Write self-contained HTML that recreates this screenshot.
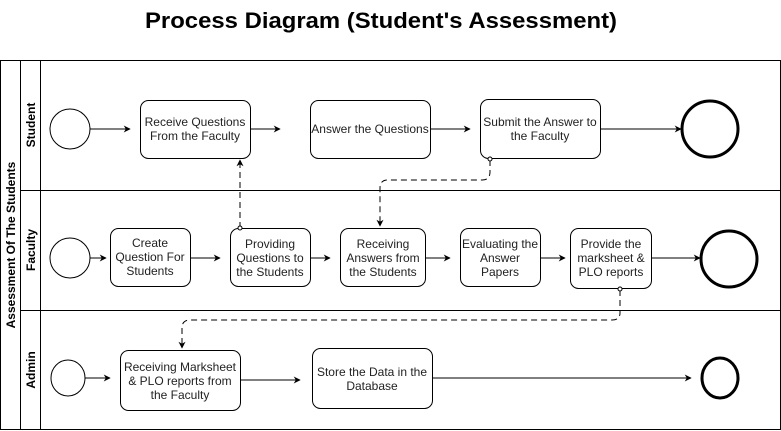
<!DOCTYPE html>
<html><head><meta charset="utf-8"><style>html,body{margin:0;padding:0;background:#fff}svg{display:block}text{font-family:"Liberation Sans",Arial,sans-serif}</style></head>
<body>
<svg width="781" height="431" viewBox="0 0 781 431" xmlns="http://www.w3.org/2000/svg">
<defs>
<marker id="a" viewBox="0 0 10 10" refX="9" refY="5" markerWidth="7" markerHeight="7" orient="auto" markerUnits="userSpaceOnUse"><path d="M0,0 L10,5 L0,10 L3,5 z" fill="#000"/></marker>
</defs>
<text x="381" y="28" font-size="22" font-weight="bold" text-anchor="middle" textLength="472" lengthAdjust="spacingAndGlyphs">Process Diagram (Student's Assessment)</text>
<g fill="none" stroke="#000" stroke-width="1">
<rect x="0.5" y="60.5" width="780" height="369"/>
<line x1="20.5" y1="60" x2="20.5" y2="430"/>
<line x1="40.5" y1="60" x2="40.5" y2="430"/>
<line x1="20" y1="190.5" x2="781" y2="190.5"/>
<line x1="20" y1="310.5" x2="781" y2="310.5"/>
</g>
<g font-size="12" font-weight="bold">
<text transform="translate(15,245) rotate(-90)" text-anchor="middle">Assessment Of The Students</text>
<text transform="translate(35,125) rotate(-90)" text-anchor="middle">Student</text>
<text transform="translate(35,250) rotate(-90)" text-anchor="middle">Faculty</text>
<text transform="translate(35,370) rotate(-90)" text-anchor="middle">Admin</text>
</g>
<g fill="#fff" stroke="#000">
<circle cx="70" cy="129" r="20"/>
<circle cx="710" cy="129" r="28" stroke-width="3"/>
<circle cx="70" cy="258" r="20"/>
<circle cx="729" cy="259" r="28" stroke-width="3"/>
<ellipse cx="68" cy="378" rx="17" ry="18"/>
<ellipse cx="720" cy="378" rx="18" ry="20" stroke-width="3"/>
<rect x="140.5" y="100.5" width="110" height="58" rx="8"/>
<rect x="310.5" y="100.5" width="120" height="58" rx="8"/>
<rect x="480.5" y="99.5" width="120" height="59" rx="8"/>
<rect x="110.5" y="228.5" width="80" height="58" rx="8"/>
<rect x="230.5" y="228.5" width="80" height="58" rx="8"/>
<rect x="340.5" y="228.5" width="85" height="58" rx="8"/>
<rect x="460.5" y="228.5" width="80" height="58" rx="8"/>
<rect x="570.5" y="228.5" width="81" height="60" rx="8"/>
<rect x="120.5" y="350.5" width="120" height="60" rx="8"/>
<rect x="312.5" y="348.5" width="120" height="60" rx="8"/>
</g>
<g stroke="#000" fill="none" marker-end="url(#a)">
<line x1="90" y1="129" x2="130" y2="129"/>
<line x1="250" y1="129" x2="280" y2="129"/>
<line x1="430" y1="129" x2="470" y2="129"/>
<line x1="600" y1="129" x2="681" y2="129"/>
<line x1="90" y1="258" x2="106" y2="258"/>
<line x1="190" y1="258" x2="220" y2="258"/>
<line x1="310" y1="258" x2="330" y2="258"/>
<line x1="425" y1="258" x2="450" y2="258"/>
<line x1="540" y1="258" x2="565" y2="258"/>
<line x1="651" y1="258" x2="700" y2="258"/>
<line x1="85" y1="378" x2="110" y2="378"/>
<line x1="240" y1="380" x2="300" y2="380"/>
<line x1="432" y1="378" x2="691" y2="378"/>
<g stroke-dasharray="6,4">
<path d="M240,228 L240,160"/>
<path d="M490,160 L490,172 Q490,180 482,180 L388,180 Q380,180 380,188 L380,226"/>
<path d="M620,290 L620,313 Q620,320 612,320 L190,320 Q182,320 182,328 L182,348"/>
</g>
</g>
<g fill="#fff" stroke="#000"><circle cx="240" cy="228" r="2"/><circle cx="490" cy="159" r="2"/><circle cx="620" cy="289" r="2"/></g>
<g font-size="12" text-anchor="middle" fill="#222">
<text x="195" y="126">Receive Questions</text><text x="195" y="140">From the Faculty</text>
<text x="370" y="133">Answer the Questions</text>
<text x="540" y="126">Submit the Answer to</text><text x="540" y="140">the Faculty</text>
<text x="150" y="247">Create</text><text x="150" y="261">Question For</text><text x="150" y="275">Students</text>
<text x="270" y="248">Providing</text><text x="270" y="262">Questions to</text><text x="270" y="276">the Students</text>
<text x="383" y="248">Receiving</text><text x="383" y="262">Answers from</text><text x="383" y="276">the Students</text>
<text x="500" y="248">Evaluating the</text><text x="500" y="262">Answer</text><text x="500" y="276">Papers</text>
<text x="611" y="248">Provide the</text><text x="611" y="262">marksheet &amp;</text><text x="611" y="276">PLO reports</text>
<text x="180" y="371">Receiving Marksheet</text><text x="180" y="385">&amp; PLO reports from</text><text x="180" y="399">the Faculty</text>
<text x="372" y="376">Store the Data in the</text><text x="372" y="390">Database</text>
</g>
</svg>
</body></html>
